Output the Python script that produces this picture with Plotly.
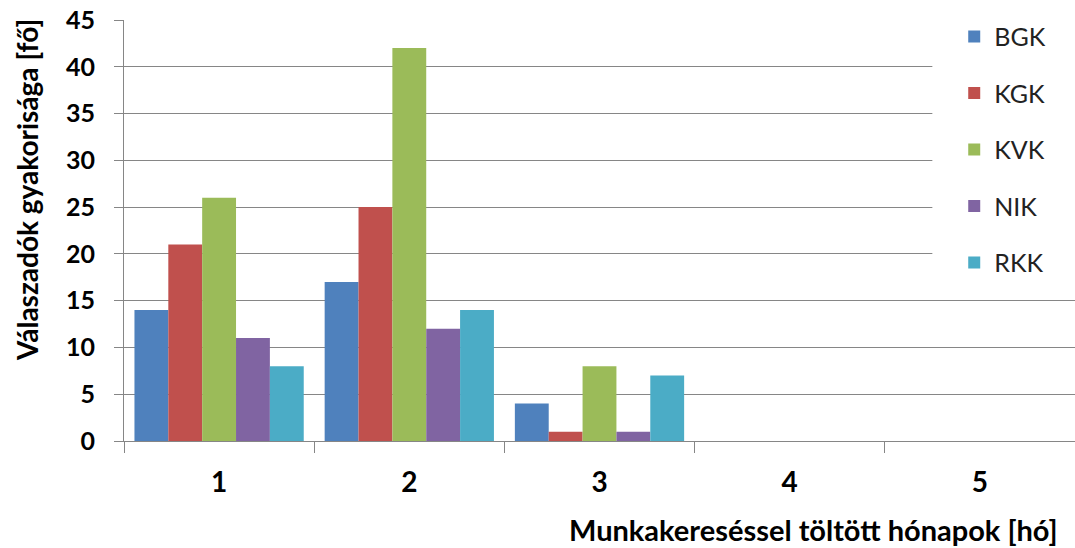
import plotly.graph_objects as go

# hónapok (kategóriák)
months = ["1", "2", "3", "4", "5"]

# karonkénti válaszadók száma
bgk = [14, 17, 4, 0, 0]
kgk = [21, 25, 1, 0, 0]
kvk = [26, 42, 8, 0, 0]
nik = [11, 12, 1, 0, 0]
rkk = [8, 14, 7, 0, 0]

series = [
    ("BGK", bgk, "#4F81BD"),
    ("KGK", kgk, "#C0504D"),
    ("KVK", kvk, "#9BBB59"),
    ("NIK", nik, "#8064A2"),
    ("RKK", rkk, "#4BACC6"),
]

FONT = "Lato, Calibri, 'Open Sans', sans-serif"
GRID = "#868686"

fig = go.Figure()
for name, vals, color in series:
    fig.add_trace(go.Bar(
        x=months,
        y=vals,
        name=name,
        legendgroup=name,
        marker_color=color,
        marker_line_width=0,
        hovertemplate=name + ": %{y}<extra></extra>",
    ))

fig.update_layout(
    width=1075,
    height=548,
    margin=dict(l=124, r=0, t=20, b=107),
    paper_bgcolor="white",
    plot_bgcolor="white",
    barmode="group",
    bargap=0.11,
    bargroupgap=0,
    font=dict(family=FONT, color="black"),
    showlegend=True,
    legend=dict(
        x=0.873, xanchor="left",
        y=1.015, yanchor="top",
        bgcolor="rgba(255,255,255,0)",
        font=dict(size=25, family=FONT, color="#222222"),
        traceorder="grouped",
        tracegroupgap=21,
    ),
)

fig.update_xaxes(
    type="category",
    showline=True, linecolor=GRID, linewidth=1,
    ticks="outside", tickson="boundaries", ticklen=11, tickcolor=GRID,
    tickfont=dict(size=28, family=FONT, color="black", weight="bold"),
    ticklabelstandoff=16,
    showgrid=False,
)
fig.update_yaxes(
    range=[0, 45], dtick=5,
    showline=True, linecolor=GRID, linewidth=1,
    ticks="outside", ticklen=9, tickcolor=GRID,
    tickfont=dict(size=25, family=FONT, color="black", weight="bold"),
    ticklabelstandoff=14,
    showgrid=True, gridcolor=GRID, gridwidth=1,
    zeroline=False,
)

# a jelmagyarázat fehér háttere eltakarja a rácsvonalakat
fig.add_shape(
    type="rect", xref="paper", yref="paper",
    x0=0.85, x1=1.0, y0=0.36, y1=1.01,
    fillcolor="white", line_width=0, layer="above",
)

fig.add_annotation(
    text="Munkakereséssel töltött hónapok [hó]",
    xref="paper", yref="paper", x=0.984, y=-0.211,
    xanchor="right", yanchor="middle", showarrow=False,
    font=dict(size=29, family=FONT, color="black", weight="bold"),
)
fig.add_annotation(
    text="Válaszadók gyakorisága [fő]",
    xref="paper", yref="paper", x=-0.102, y=0.596,
    xanchor="center", yanchor="middle", textangle=-90, showarrow=False,
    font=dict(size=28, family=FONT, color="black", weight="bold"),
)

# a böngésző alapértelmezett 8px-es body margóját nullázzuk
fig.write_html(
    "out.html",
    config={"displayModeBar": False},
    post_script="document.body.style.margin='0';",
)
